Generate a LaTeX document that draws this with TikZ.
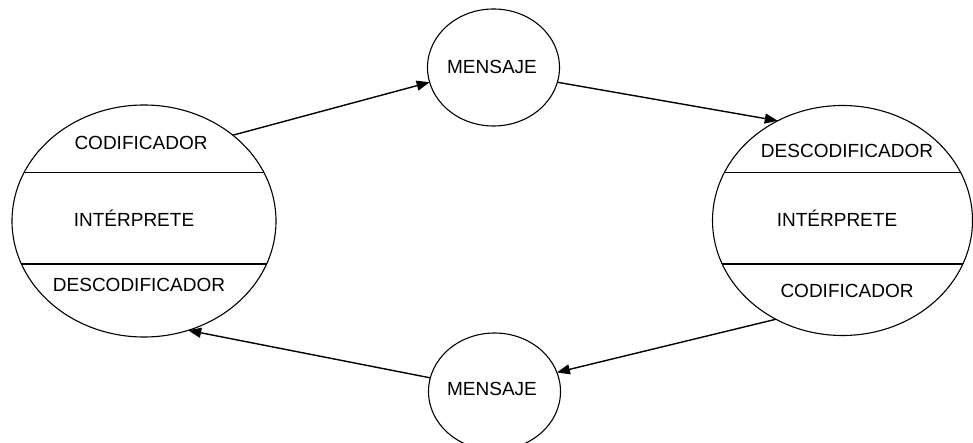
\documentclass[tikz,border=0pt]{standalone}
\usepackage{fontspec}
\setmainfont{Liberation Sans}
\usetikzlibrary{shapes.geometric,arrows.meta}
\begin{document}
\begin{tikzpicture}[x=1pt,y=-1pt,
  agentL/.style={ellipse,draw,line width=1.1pt,inner sep=0pt,outer sep=0pt,minimum width=264pt,minimum height=232pt},
  agentR/.style={ellipse,draw,line width=1.1pt,inner sep=0pt,outer sep=0pt,minimum width=260pt,minimum height=230pt},
  msg/.style={ellipse,draw,line width=1.1pt,inner sep=0pt,outer sep=0pt,minimum width=132pt,minimum height=117pt},
  lbl/.style={font=\fontsize{19}{22}\selectfont,inner sep=0pt},
  flow/.style={line width=1.4pt,-{Triangle[length=13pt,width=10pt]}},
  sepline/.style={line width=1.1pt}]
\useasboundingbox (0,0) rectangle (973,443);
% shapes
\node[agentL] (L) at (144,221) {};
\node[agentR] (R) at (842.5,220.5) {};
\node[msg] (M1) at (493.5,67.5) {};
\node[msg] (M2) at (494.5,391.5) {};
% separating lines
\begin{scope}
  \clip (L.center) ellipse [x radius=132pt, y radius=116pt];
  \draw[sepline] (0,172.7) -- (300,172.7);
  \draw[sepline] (0,264) -- (300,264);
\end{scope}
\begin{scope}
  \clip (R.center) ellipse [x radius=130pt, y radius=115pt];
  \draw[sepline] (700,172.7) -- (980,172.7);
  \draw[sepline] (700,264) -- (980,264);
\end{scope}
% labels
\node[lbl] (L1) at (141,143) {CODIFICADOR};
\node[lbl] (L2) at (134,218) {INTÉRPRETE};
\node[lbl] (L3) at (139,285) {DESCODIFICADOR};
\node[lbl] (R1) at (847,151) {DESCODIFICADOR};
\node[lbl] (R2) at (837,218) {INTÉRPRETE};
\node[lbl] (R3) at (847,291) {CODIFICADOR};
\node[lbl] (T1) at (492,67) {MENSAJE};
\node[lbl] (T2) at (492,389) {MENSAJE};
% connectors
\draw[flow] (L.44) -- (M1.193);
\draw[flow] (M1.-13) -- (R.123);
\draw[flow] (R.236) -- (M2.17);
\draw[flow] (M2.168) -- (L.292);
\end{tikzpicture}
\end{document}
